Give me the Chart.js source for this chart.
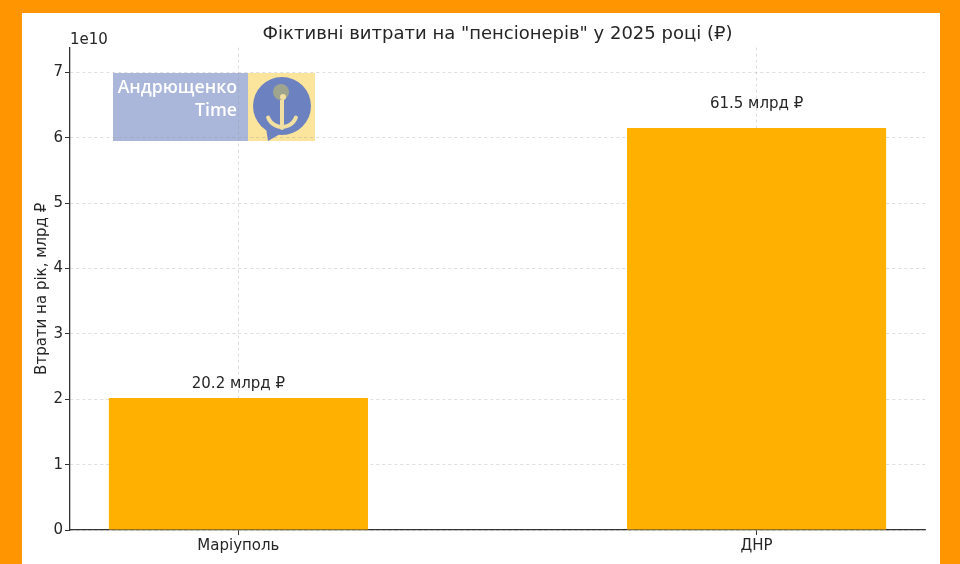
<!DOCTYPE html>
<html><head><meta charset="utf-8">
<script src="https://cdn.jsdelivr.net/npm/chart.js@4"></script>
<style>
html,body{margin:0;padding:0;}
body{width:960px;height:564px;overflow:hidden;background:#FF9500;position:relative;}
#panel{position:absolute;left:22px;top:13px;width:918px;height:560px;background:#fff;}
#wrap{position:absolute;left:0;top:0;width:960px;height:564px;}
</style></head><body>
<div id="panel"></div>
<div id="wrap"><canvas id="c" width="960" height="564"></canvas></div>
<script>
const categories = ["Маріуполь", "ДНР"];
const values = [2.02e10, 6.15e10];
const valueLabels = ["20.2 млрд ₽", "61.5 млрд ₽"];
const yTicks = [0, 1, 2, 3, 4, 5, 6, 7];
const yScaleFactor = 1e10;
const yMultiplierLabel = "1e10";
const yMax = 7.38e10;
const titleText = 'Фіктивні витрати на "пенсіонерів" у 2025 році (₽)';
const yTitle = "Втрати на рік, млрд ₽";
const logoLines = ["Андрющенко", "Time"];

const FONT = '"DejaVu Sans", sans-serif';
const TXT = '#262626';

const logoPlugin = {
  id: 'logo',
  beforeDraw(chart) {
    const ctx = chart.ctx;
    ctx.save();
    ctx.fillStyle = '#AAB6DA';
    ctx.fillRect(113, 73, 135, 68);
    ctx.fillStyle = '#FBE49C';
    ctx.fillRect(248, 73, 67, 68);
    // bubble
    ctx.fillStyle = '#6C81C0';
    ctx.beginPath();
    ctx.arc(282, 106, 29, 0, Math.PI * 2);
    ctx.fill();
    ctx.beginPath();
    ctx.moveTo(266, 128); ctx.lineTo(268, 141); ctx.lineTo(280, 134); ctx.closePath();
    ctx.fill();
    // anchor
    ctx.strokeStyle = '#F2DFA2';
    ctx.lineWidth = 4;
    ctx.lineCap = 'round';
    ctx.beginPath();
    ctx.moveTo(282, 98); ctx.lineTo(282, 128);
    ctx.stroke();
    ctx.beginPath();
    ctx.arc(282, 112, 15, Math.PI * 0.12, Math.PI * 0.88);
    ctx.stroke();
    ctx.fillStyle = '#9FA48E';
    ctx.beginPath();
    ctx.arc(281, 92, 8, 0, Math.PI * 2);
    ctx.fill();
    ctx.fillStyle = '#F2DFA2';
    ctx.beginPath();
    ctx.arc(283, 97, 3, 0, Math.PI * 2);
    ctx.fill();
    // text
    ctx.fillStyle = '#ffffff';
    ctx.font = '600 17.7px "Open Sans", sans-serif';
    ctx.textAlign = 'right';
    ctx.textBaseline = 'alphabetic';
    ctx.fillText(logoLines[0], 237, 93);
    ctx.fillText(logoLines[1], 237, 116);
    ctx.restore();
  }
};

const annotPlugin = {
  id: 'annot',
  afterDatasetsDraw(chart) {
    const ctx = chart.ctx;
    const meta = chart.getDatasetMeta(0);
    const ys = chart.scales.y;
    ctx.save();
    ctx.fillStyle = TXT;
    ctx.font = '15px ' + FONT;
    ctx.textAlign = 'center';
    ctx.textBaseline = 'alphabetic';
    meta.data.forEach((bar, i) => {
      const yv = values[i] * 1.0375 + 0.08 * yScaleFactor;
      ctx.fillText(valueLabels[i], bar.x, ys.getPixelForValue(yv));
    });
    // offset text
    ctx.textAlign = 'left';
    ctx.fillText(yMultiplierLabel, chart.chartArea.left, chart.chartArea.top - 4);
    ctx.restore();
  }
};

const gridCommon = {
  display: true,
  offset: false,
  color: 'rgba(150,150,150,0.4)',
  lineWidth: 0.8,
  tickLength: 5,
  tickColor: '#333',
  tickBorderDash: [],
  tickWidth: 1
};

new Chart(document.getElementById('c'), {
  type: 'bar',
  data: {
    datasets: [{
      data: values.map((v, i) => ({ x: i, y: v })),
      backgroundColor: '#FFB000',
      borderWidth: 0,
      categoryPercentage: 0.5,
      barPercentage: 1.0
    }]
  },
  options: {
    responsive: false,
    animation: false,
    layout: { padding: { left: 29, right: 35, top: 12, bottom: 0 } },
    plugins: {
      legend: { display: false },
      tooltip: { enabled: false },
      title: {
        display: true,
        text: titleText,
        fullSize: false,
        color: TXT,
        font: { family: FONT, size: 18, weight: 'normal' },
        padding: { top: 12, bottom: 2 }
      }
    },
    scales: {
      x: {
        type: 'linear',
        z: 1,
        min: -0.325,
        max: 1.325,
        offset: false,
        afterBuildTicks: s => { s.ticks = categories.map((c, i) => ({ value: i })); },
        afterFit: s => { s.height = 34; },
        ticks: {
          includeBounds: false,
          color: TXT,
          font: { family: FONT, size: 15 },
          padding: 2,
          callback: (v, i) => categories[i]
        },
        grid: gridCommon,
        border: { display: true, color: '#333', width: 1.3, dash: [3, 3] }
      },
      y: {
        type: 'linear',
        z: 1,
        min: 0,
        max: yMax,
        afterBuildTicks: s => { s.ticks = yTicks.map(t => ({ value: t * yScaleFactor })); },
        afterFit: s => { s.width = 41; },
        ticks: {
          includeBounds: false,
          color: TXT,
          font: { family: FONT, size: 15 },
          padding: 2,
          callback: v => String(Math.round(v / yScaleFactor))
        },
        grid: gridCommon,
        border: { display: true, color: '#333', width: 1.3, dash: [3, 3] },
        title: {
          display: true,
          text: yTitle,
          color: TXT,
          font: { family: FONT, size: 15 },
          padding: { top: 4, bottom: 4 }
        }
      }
    }
  },
  plugins: [logoPlugin, annotPlugin]
});
</script>
</body></html>
